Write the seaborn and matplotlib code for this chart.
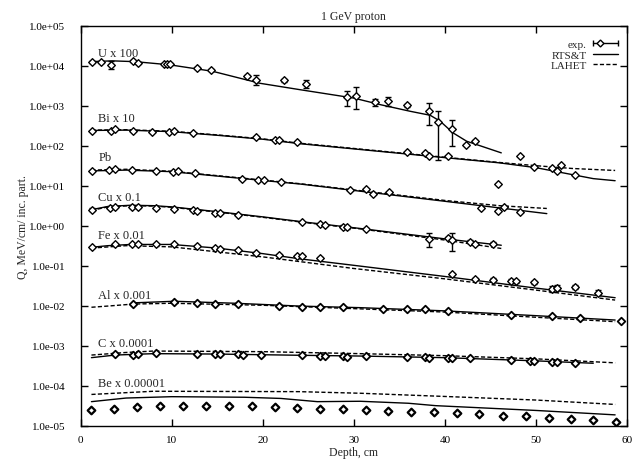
import numpy as np
import pandas as pd
import matplotlib
matplotlib.use("Agg")
import matplotlib.pyplot as plt
import seaborn as sns
from matplotlib.lines import Line2D
from matplotlib.legend_handler import HandlerBase
from matplotlib.ticker import FixedLocator, FuncFormatter, NullLocator

# ---------------- data ----------------
# U x 100
U_d = [1.3, 2.3, 3.3, 5.8, 6.3, 9.2, 9.5, 9.8, 12.75, 14.3, 18.3, 19.3, 22.3, 24.8,
       29.3, 30.3, 32.3, 33.8, 35.8, 38.3, 39.3, 40.8, 42.3, 43.3]
U_q = [12300, 12300, 10500, 13200, 11600, 10900, 10900, 10900, 8690, 7740, 5580, 4360,
       4280, 3520, 1610, 1770, 1230, 1280, 1020, 721, 389, 265, 106, 129]
U_lo = [11800, 11800, 8340, 12600, 11000, 10400, 10400, 10400, 8100, 7200, 5200, 3330,
        3950, 2750, 962, 838, 962, 962, 912, 322, 44.6, 96.4, 101, 123]
U_hi = [12800, 12800, 13200, 13800, 12200, 11400, 11400, 11400, 9300, 8300, 6000, 5710,
        4650, 4440, 2280, 2860, 1490, 1640, 1120, 1160, 746, 437, 111, 135]
U_rts_d = [1.0, 3.5, 6.0, 9.8, 14.5, 19.7, 24.1, 30.0, 33.0, 36.2, 38.4, 39.5, 40.9, 42.4, 46.2]
U_rts_q = [12600, 13200, 12600, 10500, 7240, 3630, 2510, 1550, 1050, 724, 575, 407, 209, 129, 66.1]

# Bi x 10
Bi_d = [1.3, 3.3, 3.8, 5.8, 7.8, 9.75, 10.3, 12.3, 19.3, 21.35, 21.8, 23.8, 35.8, 37.8,
        38.3, 40.3, 45.8, 48.2, 49.8, 51.8, 52.3, 52.8, 54.3]
Bi_q = [237, 228, 256, 237, 223, 219, 228, 207, 161, 141, 136, 123, 68.2, 65.5,
        56.1, 55.2, 11.0, 54.2, 28.8, 27.7, 22.9, 32.3, 18.2]
Bi_rts_d = [1.2, 5.0, 10.0, 15.0, 20.0, 24.1, 35.0, 46.0, 50.0, 56.3, 58.7]
Bi_rts_q = [240, 245, 224, 182, 145, 112, 64.6, 37.2, 28.2, 15.0, 13.3]
Bi_lah_d = [1.2, 5.0, 10.0, 15.0, 20.0, 24.1, 35.0, 46.0, 50.0, 54.0, 58.7]
Bi_lah_q = [245, 251, 229, 186, 148, 115, 66.1, 38.0, 31.6, 26.9, 24.0]

# Pb
Pb_d = [1.3, 3.16, 3.8, 5.6, 8.3, 10.1, 10.7, 12.6, 17.7, 19.5, 20.1, 22.0, 29.6, 31.4,
        32.1, 33.9, 44.0, 45.8, 46.5, 48.3]
Pb_q = [23.7, 25.1, 26.6, 24.2, 23.7, 22.4, 23.3, 20.4, 14.7, 14.1, 13.6, 12.4, 7.66, 8.41,
        6.31, 6.82, 2.77, 2.29, 2.99, 2.20]
Pb_rts_d = [1.2, 5.0, 10.0, 15.0, 20.0, 24.1, 40.0, 51.2]
Pb_rts_q = [23.4, 24.5, 22.4, 17.4, 13.5, 11.0, 4.07, 2.0]
Pb_lah_d = [1.2, 5.0, 10.0, 15.0, 20.0, 24.1, 40.0, 46.0, 51.2]
Pb_lah_q = [24.5, 25.7, 22.9, 17.8, 13.8, 11.2, 4.27, 3.16, 2.69]

# Cu x 0.1
Cu_d = [1.3, 3.24, 3.8, 5.7, 6.3, 8.3, 10.3, 12.3, 12.75, 14.8, 15.3, 17.3, 24.3, 26.3,
        26.8, 28.85, 29.3, 31.3, 38.3, 40.3, 40.8, 42.75, 43.3, 45.3]
Cu_q = [2.52, 2.77, 2.94, 2.88, 2.88, 2.82, 2.62, 2.42, 2.38, 2.12, 2.12, 1.89, 1.24, 1.11,
        1.03, 0.946, 0.912, 0.830, 0.475, 0.494, 0.449, 0.393, 0.350, 0.350]
Cu_lo = [2.30, 2.70, 2.87, 2.80, 2.80, 2.75, 2.56, 2.37, 2.33, 2.07, 2.07, 1.85, 1.21, 1.08,
         1.00, 0.86, 0.84, 0.81, 0.300, 0.48, 0.238, 0.36, 0.33, 0.32]
Cu_hi = [2.75, 2.85, 3.01, 2.96, 2.96, 2.89, 2.68, 2.47, 2.43, 2.17, 2.17, 1.93, 1.27, 1.14,
         1.06, 1.04, 0.99, 0.85, 0.659, 0.51, 0.659, 0.43, 0.37, 0.39]
Cu_rts_d = [1.2, 3.0, 5.5, 8.0, 10.0, 15.0, 20.0, 25.0, 30.7, 40.0, 46.2]
Cu_rts_q = [2.51, 3.02, 3.24, 3.16, 2.95, 2.24, 1.66, 1.20, 0.851, 0.468, 0.324]
Cu_lah_d = [1.2, 3.0, 5.5, 8.0, 10.0, 15.0, 20.0, 25.0, 30.7, 40.0, 46.2]
Cu_lah_q = [2.40, 2.95, 3.16, 3.09, 2.88, 2.19, 1.62, 1.17, 0.832, 0.437, 0.269]

# Fe x 0.01
Fe_d = [1.3, 3.8, 5.7, 6.3, 8.3, 10.3, 12.75, 14.8, 15.3, 17.3, 19.3, 21.8, 23.8, 24.3,
        26.3, 40.8, 43.3, 45.3, 47.3, 47.8, 49.8, 51.8, 52.3, 54.3, 56.8]
Fe_q = [0.290, 0.344, 0.344, 0.344, 0.344, 0.344, 0.312, 0.278, 0.268, 0.244, 0.209, 0.190,
        0.175, 0.175, 0.157, 0.0624, 0.0476, 0.0450, 0.0425, 0.0409, 0.0386, 0.0268, 0.0279,
        0.0290, 0.0211]
Fe_lo = [0.282, 0.335, 0.335, 0.335, 0.335, 0.335, 0.304, 0.271, 0.261, 0.238, 0.204, 0.185,
         0.170, 0.170, 0.153, 0.0590, 0.0445, 0.0410, 0.0395, 0.0375, 0.0350, 0.0225, 0.0240,
         0.0255, 0.0185]
Fe_hi = [0.298, 0.353, 0.353, 0.353, 0.353, 0.353, 0.320, 0.285, 0.275, 0.250, 0.214, 0.195,
         0.180, 0.180, 0.161, 0.0660, 0.0505, 0.0495, 0.0455, 0.0445, 0.0425, 0.0315, 0.0320,
         0.0330, 0.0240]
Fe_rts_d = [1.2, 3.0, 5.5, 10.0, 15.0, 20.0, 24.1, 30.0, 40.0, 50.0, 58.7]
Fe_rts_q = [0.288, 0.316, 0.339, 0.339, 0.275, 0.200, 0.148, 0.102, 0.0537, 0.0275, 0.0158]
Fe_lah_d = [1.2, 5.0, 10.0, 20.0, 30.0, 40.0, 50.0, 58.7]
Fe_lah_q = [0.275, 0.316, 0.295, 0.166, 0.0850, 0.0468, 0.0245, 0.0138]

# Al x 0.001
Al_d = [5.8, 10.3, 12.75, 14.8, 17.3, 21.8, 24.3, 26.3, 28.8, 33.2, 35.8, 37.8, 40.3,
        47.3, 51.8, 54.8, 59.3]
Al_q = [0.01132, 0.01225, 0.01156, 0.01132, 0.01112, 0.00973, 0.00935, 0.00918, 0.00918,
        0.00849, 0.00818, 0.00802, 0.00729, 0.00601, 0.00547, 0.00478, 0.00411]
Al_rts_d = [5.8, 10.3, 17.0, 24.0, 30.7, 40.0, 50.0, 58.7]
Al_rts_q = [0.01175, 0.01288, 0.01148, 0.00977, 0.00891, 0.00741, 0.00562, 0.00437]
Al_lah_d = [1.2, 3.0, 5.8, 10.0, 20.0, 30.7, 40.0, 50.0, 58.7]
Al_lah_q = [0.00912, 0.00977, 0.01096, 0.01148, 0.01023, 0.00832, 0.00692, 0.00513, 0.00398]

# C x 0.0001
C_d = [3.8, 5.8, 6.3, 8.3, 12.75, 14.8, 15.3, 17.3, 17.8, 19.8, 24.3, 26.3, 26.8, 28.8,
       29.3, 31.3, 35.8, 37.8, 38.3, 40.3, 40.8, 42.75, 47.3, 49.3, 49.8, 51.8, 52.3, 54.3]
C_q = [6.04e-4, 5.70e-4, 6.04e-4, 6.40e-4, 6.04e-4, 6.28e-4, 6.04e-4, 6.04e-4, 5.82e-4,
       5.82e-4, 5.82e-4, 5.50e-4, 5.50e-4, 5.50e-4, 5.28e-4, 5.50e-4, 5.19e-4, 5.28e-4,
       4.99e-4, 4.99e-4, 4.81e-4, 4.99e-4, 4.28e-4, 4.20e-4, 4.20e-4, 3.89e-4, 3.89e-4, 3.60e-4]
C_rts_d = [1.2, 3.8, 8.0, 15.0, 24.0, 30.7, 40.0, 50.0, 56.3]
C_rts_q = [5.01e-4, 5.82e-4, 6.31e-4, 6.17e-4, 5.75e-4, 5.50e-4, 5.01e-4, 4.17e-4, 3.63e-4]
C_lah_d = [1.2, 5.0, 8.0, 20.0, 30.7, 40.0, 50.0, 58.7]
C_lah_q = [5.82e-4, 6.76e-4, 7.33e-4, 7.08e-4, 6.31e-4, 5.62e-4, 4.68e-4, 3.72e-4]

# Be x 0.00001
Be_d = [1.2, 3.7, 6.2, 8.7, 11.2, 13.8, 16.3, 18.8, 21.3, 23.8, 26.3, 28.8, 31.3, 33.8,
        36.3, 38.8, 41.3, 43.8, 46.4, 48.9, 51.4, 53.8, 56.3, 58.8]
Be_q = [2.46e-5, 2.65e-5, 2.92e-5, 3.09e-5, 3.10e-5, 3.10e-5, 3.10e-5, 3.09e-5, 2.92e-5,
        2.81e-5, 2.65e-5, 2.55e-5, 2.40e-5, 2.29e-5, 2.19e-5, 2.14e-5, 2.04e-5, 1.95e-5,
        1.78e-5, 1.70e-5, 1.58e-5, 1.45e-5, 1.35e-5, 1.26e-5]
Be_rts_d = [1.2, 5.0, 10.0, 18.0, 22.0, 26.0, 30.7, 36.0, 39.0, 50.0, 58.7]
Be_rts_q = [3.98e-5, 4.90e-5, 5.30e-5, 5.13e-5, 4.79e-5, 3.98e-5, 4.07e-5, 3.63e-5, 3.16e-5,
            2.40e-5, 1.86e-5]
Be_lah_d = [1.2, 8.0, 24.0, 30.7, 40.0, 50.0, 58.7]
Be_lah_q = [6.03e-5, 7.24e-5, 7.08e-5, 6.46e-5, 5.37e-5, 4.37e-5, 3.39e-5]

labels = ["U x 100", "Bi x 10", "Pb", "Cu x 0.1", "Fe x 0.01", "Al x 0.001",
          "C x 0.0001", "Be x 0.00001"]
label_y = [20400, 490, 51.3, 5.13, 0.575, 0.0182, 1.17e-3, 1.17e-4]
label_x = 1.95

x_ticks = [0, 10, 20, 30, 40, 50, 60]
y_ticks = [1e-5, 1e-4, 1e-3, 1e-2, 1e-1, 1e0, 1e1, 1e2, 1e3, 1e4, 1e5]

# ---------------- style ----------------
sns.set_theme(style="ticks")
plt.rcParams['font.family'] = ['Liberation Serif', 'DejaVu Serif']
plt.rcParams['axes.linewidth'] = 1.0
FS = 8

fig = plt.figure(figsize=(6.36, 4.6), dpi=100)
ax = fig.add_axes([0.1266, 0.0725, 0.8592, 0.8695])

DASH = (0, (3.0, 1.6))


def draw_line(d, q, dashed=False):
    sns.lineplot(x=d, y=q, ax=ax, color='black', linewidth=1.0, estimator=None, sort=False,
                 linestyle=DASH if dashed else '-', zorder=2)


def draw_exp(d, q, lo=None, hi=None, mew=1.0):
    if lo is not None:
        q_arr = np.asarray(q)
        yerr = [q_arr - np.asarray(lo), np.asarray(hi) - q_arr]
        ax.errorbar(d, q, yerr=yerr, fmt='none', ecolor='black', elinewidth=1.0,
                    capsize=2.0, capthick=1.0, zorder=3)
    sns.scatterplot(x=d, y=q, ax=ax, marker='D', s=15, facecolor='white',
                    edgecolor='black', linewidth=mew, zorder=4)


draw_line(U_rts_d, U_rts_q)
draw_exp(U_d, U_q, U_lo, U_hi)

draw_line(Bi_rts_d, Bi_rts_q)
draw_line(Bi_lah_d, Bi_lah_q, dashed=True)
draw_exp(Bi_d, Bi_q)

draw_line(Pb_rts_d, Pb_rts_q)
draw_line(Pb_lah_d, Pb_lah_q, dashed=True)
draw_exp(Pb_d, Pb_q)

draw_line(Cu_rts_d, Cu_rts_q)
draw_line(Cu_lah_d, Cu_lah_q, dashed=True)
draw_exp(Cu_d, Cu_q, Cu_lo, Cu_hi)

draw_line(Fe_rts_d, Fe_rts_q)
draw_line(Fe_lah_d, Fe_lah_q, dashed=True)
draw_exp(Fe_d, Fe_q, Fe_lo, Fe_hi)

draw_line(Al_rts_d, Al_rts_q)
draw_line(Al_lah_d, Al_lah_q, dashed=True)
draw_exp(Al_d, Al_q, mew=1.3)

draw_line(C_rts_d, C_rts_q)
draw_line(C_lah_d, C_lah_q, dashed=True)
draw_exp(C_d, C_q, mew=1.3)

draw_line(Be_rts_d, Be_rts_q)
draw_line(Be_lah_d, Be_lah_q, dashed=True)
draw_exp(Be_d, Be_q, mew=1.6)

for lab, yv in zip(labels, label_y):
    ax.text(label_x, yv, lab, fontsize=FS + 1, ha='left', va='center')

ax.set_yscale('log')
ax.set_xlim(0, 60)
ax.set_ylim(1e-5, 1e5)
ax.xaxis.set_major_locator(FixedLocator(x_ticks))
ax.yaxis.set_major_locator(FixedLocator(y_ticks))
ax.yaxis.set_minor_locator(NullLocator())
ax.xaxis.set_minor_locator(NullLocator())
ax.yaxis.set_major_formatter(FuncFormatter(lambda v, p: f"{v:.1e}"))
ax.tick_params(which='major', direction='in', top=True, right=True, length=5, width=1.0,
               labelsize=FS, colors='black')
ax.tick_params(axis='y', pad=11)
ax.tick_params(axis='x', pad=7)
for s in ax.spines.values():
    s.set_visible(True)
    s.set_color('black')

ax.set_title("1 GeV proton", fontsize=FS + 0.5, pad=5)
ax.set_xlabel("Depth, cm", fontsize=FS + 0.5, labelpad=1)
ax.set_ylabel("Q, MeV/cm/ inc. part.", fontsize=FS + 0.5, labelpad=0)


class HandlerExp(HandlerBase):
    def create_artists(self, legend, orig_handle, xdescent, ydescent, width, height,
                       fontsize, trans):
        y = height / 2 - ydescent
        x0, x1 = -xdescent, width - xdescent
        line = Line2D([x0, x1], [y, y], color='black', lw=1.0, transform=trans)
        caps = Line2D([x0, x1], [y, y], ls='none', marker='|', ms=5, mew=1.0,
                      color='black', transform=trans)
        dia = Line2D([x0 + 0.28 * width], [y], ls='none', marker='D', ms=3.5, mfc='white',
                     mec='black', mew=1.0, transform=trans)
        return [line, caps, dia]


h_exp = Line2D([], [], color='black')
h_rts = Line2D([], [], color='black', lw=1.0)
h_lah = Line2D([], [], color='black', lw=1.0, linestyle=DASH)
ax.legend([h_exp, h_rts, h_lah], ["exp.", "RTS&T", "LAHET"],
          handler_map={h_exp: HandlerExp()}, loc='upper right', frameon=False,
          markerfirst=False, fontsize=FS, handlelength=2.2, handletextpad=0.6,
          labelspacing=0.05, borderaxespad=0.3, bbox_to_anchor=(0.997, 0.985))

fig.savefig("out.png", dpi=100)
